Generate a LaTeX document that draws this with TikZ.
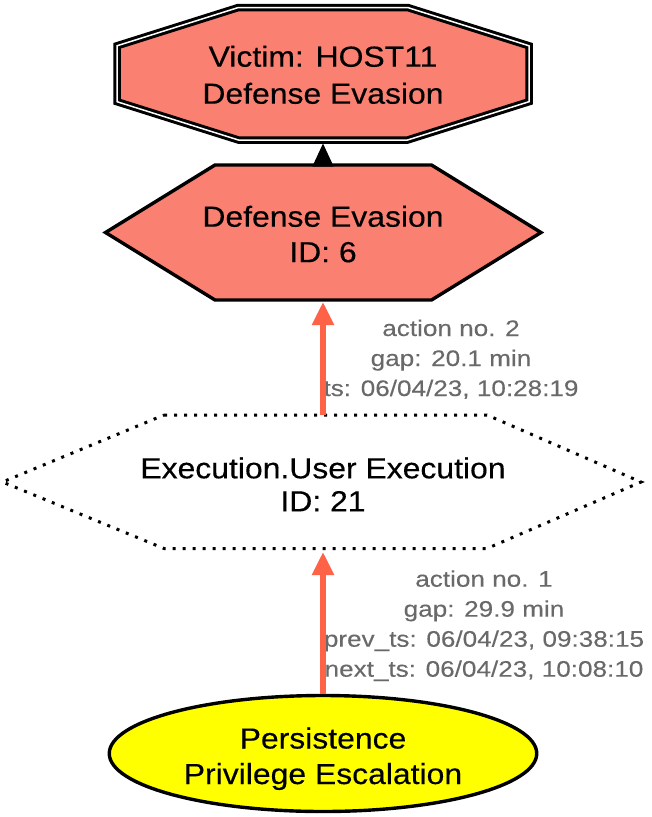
\documentclass[tikz,border=0pt]{standalone}
\usepackage{fontspec}
\setmainfont{Liberation Sans}
\newfontfamily\nodefont[FakeStretch=1.10,FakeBold=0.3]{Liberation Sans}
\newfontfamily\lblfont[FakeStretch=1.16,FakeBold=0.2]{Liberation Sans}
\usetikzlibrary{arrows.meta,shapes.geometric}
\definecolor{salmonc}{HTML}{FA8072}
\definecolor{tomatoc}{HTML}{FF6347}
\definecolor{dimgrayc}{HTML}{696969}
\definecolor{yellowc}{HTML}{FFFF00}
\newcommand{\stacktext}[1]{\begin{tabular}[t]{@{}c@{}}#1\end{tabular}}
\tikzset{
  ntext/.style={anchor=base, inner sep=0pt, font=\nodefont\fontsize{29}{35.5}\selectfont, text=black},
  ltext/.style={anchor=base, inner sep=0pt, font=\lblfont\fontsize{22.5}{30}\selectfont, text=dimgrayc},
  redarrow/.style={draw=tomatoc, line width=5.5pt, -{Triangle[length=23pt,width=21pt]}},
  blackarrow/.style={draw=black, line width=1.5pt, -{Triangle[length=23pt,width=21pt]}},
  victimshape/.style={fill=salmonc, draw=black, line width=3pt, double=white, double distance=1.5pt, line join=miter},
  hexshape/.style={fill=salmonc, draw=black, line width=3.4pt, line join=miter},
  dotshape/.style={draw=black, line width=3pt, dash pattern=on 3pt off 7pt},
  ellshape/.style={ellipse, fill=yellowc, draw=black, line width=3.4pt, inner sep=0pt}
}
\begin{document}
\begin{tikzpicture}[x=1pt,y=-1pt]
\useasboundingbox (0,0) rectangle (652,817);
% victim octagon
\draw[victimshape] (238.4,7.5) -- (407.6,7.5) -- (529,45.8) -- (529,101.7) -- (407.6,140) -- (238.4,140) -- (117,101.7) -- (117,45.8) -- cycle;
\coordinate (victimBottom) at (323,143.5);
% defense evasion hexagon
\draw[hexshape] (215,165) -- (431.5,165) -- (541,232.5) -- (431.5,300) -- (215,300) -- (105.5,232.5) -- cycle;
\coordinate (defTop) at (323,165);
\coordinate (defBottom) at (323,302);
% dotted hexagon
\draw[dotshape] (164,415) -- (487,415) -- (641,482) -- (487,548.5) -- (164,548.5) -- (2.5,482) -- cycle;
\coordinate (execTop) at (323,415);
\coordinate (execBottom) at (323,552);
% ellipse
\node[ellshape, minimum width=427.5pt, minimum height=116pt] (persShape) at (323,753.5) {};
% texts
\node[ntext] (victim) at (323,66.7) {\stacktext{Victim: HOST11\\[1.5pt]Defense Evasion}};
\node[ntext] (defev) at (323,226.7) {\stacktext{Defense Evasion\\ID: 6}};
\node[ntext] (exec) at (323,478.3) {\stacktext{Execution.User Execution\\[-2.5pt]ID: 21}};
\node[ntext] (pers) at (323,748.5) {\stacktext{Persistence\\Privilege Escalation}};
\node[ltext] (lbl2) at (451,336) {\stacktext{action no. 2\\gap: 20.1 min\\ts: 06/04/23, 10:28:19}};
\node[ltext] (lbl1) at (484,586.7) {\stacktext{action no. 1\\gap: 29.9 min\\prev\_ts: 06/04/23, 09:38:15\\next\_ts: 06/04/23, 10:08:10}};
% edges
\draw[blackarrow] (defTop) -- (victimBottom);
\draw[redarrow] (execTop) -- (defBottom);
\draw[redarrow] (persShape.north) -- (execBottom);
\end{tikzpicture}
\end{document}
